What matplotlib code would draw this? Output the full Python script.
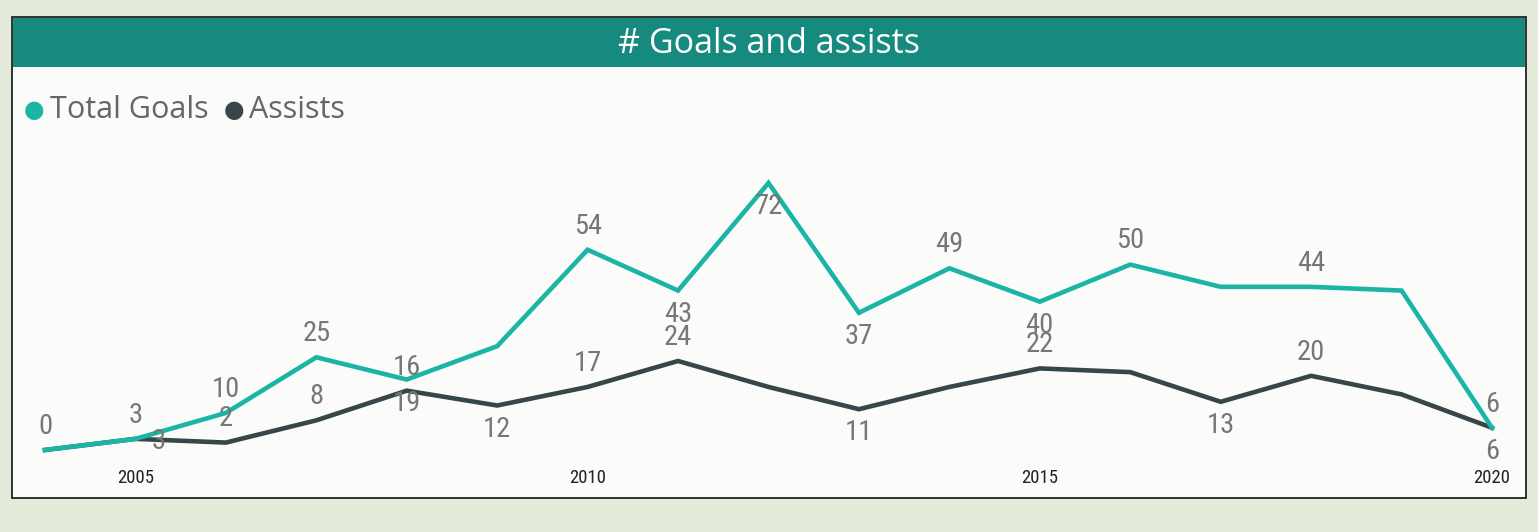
import matplotlib.pyplot as plt
from matplotlib.patches import Rectangle
from matplotlib import font_manager

# data
years = list(range(2004, 2021))
total_goals = [0, 3, 10, 25, 19, 28, 54, 43, 72, 37, 49, 40, 50, 44, 44, 43, 6]
assists = [0, 3, 2, 8, 16, 12, 17, 24, 17, 11, 17, 22, 21, 13, 20, 15, 6]
tick_years = [2005, 2010, 2015, 2020]

# label placement like the report: 'a' above, 'b' below, 'r' right, None hidden
goals_lbl = ['a', 'a', 'a', 'a', 'b', None, 'a', 'b', 'b', 'b', 'a', 'b', 'a', None, 'a', None, 'a']
assists_lbl = [None, 'r', 'a', 'a', 'a', 'b', 'a', 'a', None, 'b', None, 'a', None, 'b', 'a', None, 'b']
offsets = {'a': (0, 17), 'b': (0, -17), 'r': (17, -2)}

teal = '#1ab5a6'
dark = '#374649'
header = '#178a80'
W, H = 1538, 532

# pick a narrow face for the numbers if one is around
names = {f.name for f in font_manager.fontManager.ttflist}
narrow = None
for cand in ['Liberation Sans Narrow', 'DejaVu Sans Condensed', 'Roboto Condensed']:
    if cand in names:
        narrow = cand
        break
num_font = dict(family=narrow) if narrow else dict(family='DejaVu Sans', fontstretch='condensed')

fig = plt.figure(figsize=(W / 100, H / 100), dpi=100)
fig.patch.set_facecolor('#e4ebda')

# panel and header bar (pixel coords from top-left)
def px_rect(x0, y0, x1, y1, **kw):
    return Rectangle((x0 / W, 1 - y1 / H), (x1 - x0) / W, (y1 - y0) / H,
                     transform=fig.transFigure, zorder=-5, **kw)

fig.patches.append(px_rect(12, 17, 1526, 498, facecolor='#fbfcf9',
                           edgecolor='#111111', lw=1.2))
fig.patches.append(px_rect(13, 18, 1525, 67, facecolor=header, edgecolor='none'))
fig.text(769 / W, 1 - 44 / H, '# Goals and assists', color='white',
         fontsize=24.5, family='Open Sans', ha='center', va='center')

# legend
fig.text(34 / W, 1 - 110 / H, '\u25CF', color=teal, fontsize=17,
         ha='center', va='center', family='DejaVu Sans')
fig.text(50 / W, 1 - 110 / H, 'Total Goals', color='#666666', fontsize=22,
         family='Open Sans', ha='left', va='center')
fig.text(234 / W, 1 - 110 / H, '\u25CF', color=dark, fontsize=17,
         ha='center', va='center', family='DejaVu Sans')
fig.text(249 / W, 1 - 110 / H, 'Assists', color='#666666', fontsize=22,
         family='Open Sans', ha='left', va='center')

# plot area: 2004 -> x=45, 2020 -> x=1492 ; 0 -> y=450, 72 -> y=183
ax = fig.add_axes([45 / W, 1 - 450 / H, (1492 - 45) / W, (450 - 183) / H])
ax.set_zorder(2)
ax.set_xlim(2004, 2020)
ax.set_ylim(0, 72)
ax.patch.set_alpha(0)
for s in ax.spines.values():
    s.set_visible(False)
ax.set_yticks([])
ax.set_xticks(tick_years)
ax.set_xticklabels([str(t) for t in tick_years], fontsize=13.5, color='#222222', **num_font)
ax.tick_params(axis='x', length=0, pad=14)

ax.plot(years, total_goals, color=teal, lw=3.3, clip_on=False, zorder=3,
        solid_joinstyle='miter')
ax.plot(years, assists, color=dark, lw=3.3, clip_on=False, zorder=2,
        solid_joinstyle='miter')

lbl_kw = dict(textcoords='offset points', ha='center', va='center',
              fontsize=20.5, color='#777777', zorder=4, annotation_clip=False,
              **num_font)
for series, pos in [(total_goals, goals_lbl), (assists, assists_lbl)]:
    for x, v, p in zip(years, series, pos):
        if p is None:
            continue
        ax.annotate(str(v), (x, v), xytext=offsets[p], **lbl_kw)

fig.savefig('out.png', dpi=100, facecolor=fig.get_facecolor())
